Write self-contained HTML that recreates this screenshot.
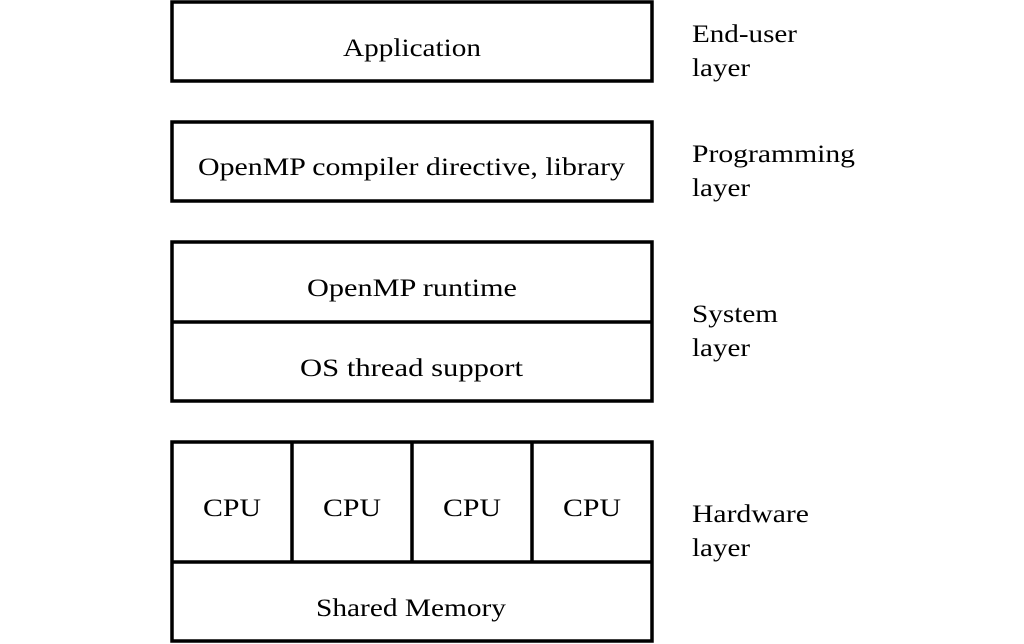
<!DOCTYPE html>
<html><head><meta charset="utf-8"><style>
html,body{margin:0;padding:0;background:#fff;}
svg{display:block}
text{font-family:"Liberation Serif",serif;font-size:25px;fill:#000}
</style></head><body>
<svg width="1024" height="644" viewBox="0 0 1024 644" xmlns="http://www.w3.org/2000/svg">
<g fill="none" stroke="#000" stroke-width="3.5">
<rect x="172" y="2" width="480" height="79"/>
<rect x="172" y="122" width="480" height="79"/>
<rect x="172" y="242" width="480" height="159"/>
<line x1="172" y1="322" x2="652" y2="322"/>
<rect x="172" y="442" width="480" height="199"/>
<line x1="172" y1="562" x2="652" y2="562"/>
<line x1="292" y1="442" x2="292" y2="562"/>
<line x1="412" y1="442" x2="412" y2="562"/>
<line x1="532" y1="442" x2="532" y2="562"/>
</g>
<text x="343" y="56" textLength="138" lengthAdjust="spacingAndGlyphs">Application</text>
<text x="198" y="175" textLength="427" lengthAdjust="spacingAndGlyphs">OpenMP compiler directive, library</text>
<text x="307" y="296" textLength="210" lengthAdjust="spacingAndGlyphs">OpenMP runtime</text>
<text x="300" y="376" textLength="223" lengthAdjust="spacingAndGlyphs">OS thread support</text>
<text x="203" y="516" textLength="58" lengthAdjust="spacingAndGlyphs">CPU</text>
<text x="323" y="516" textLength="58" lengthAdjust="spacingAndGlyphs">CPU</text>
<text x="443" y="516" textLength="58" lengthAdjust="spacingAndGlyphs">CPU</text>
<text x="563" y="516" textLength="58" lengthAdjust="spacingAndGlyphs">CPU</text>
<text x="316" y="616" textLength="190" lengthAdjust="spacingAndGlyphs">Shared Memory</text>
<text x="692" y="42" textLength="105" lengthAdjust="spacingAndGlyphs">End-user</text>
<text x="692" y="76" textLength="58" lengthAdjust="spacingAndGlyphs">layer</text>
<text x="692" y="162" textLength="163" lengthAdjust="spacingAndGlyphs">Programming</text>
<text x="692" y="196" textLength="58" lengthAdjust="spacingAndGlyphs">layer</text>
<text x="692" y="322" textLength="86" lengthAdjust="spacingAndGlyphs">System</text>
<text x="692" y="356" textLength="58" lengthAdjust="spacingAndGlyphs">layer</text>
<text x="692" y="522" textLength="117" lengthAdjust="spacingAndGlyphs">Hardware</text>
<text x="692" y="556" textLength="58" lengthAdjust="spacingAndGlyphs">layer</text>
</svg>
</body></html>
